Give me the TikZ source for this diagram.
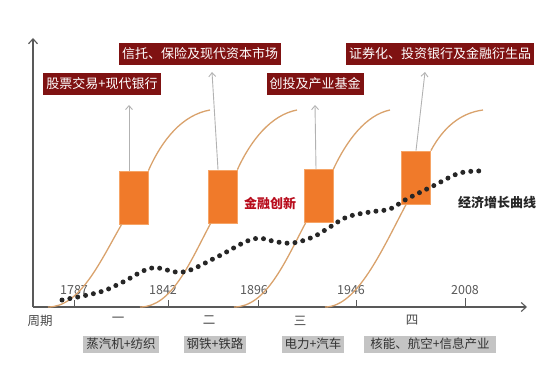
\documentclass[tikz,border=0pt]{standalone}
\usepackage{fontspec}
\setmainfont{Noto Sans CJK SC}
\usepackage{tikz}
\usetikzlibrary{arrows.meta}

\definecolor{axisgray}{HTML}{595959}
\definecolor{finred}{HTML}{7F1212}
\definecolor{boxorange}{HTML}{F07A2A}
\definecolor{boxedge}{HTML}{F6A466}
\definecolor{curvetan}{HTML}{D9A26C}
\definecolor{techgray}{HTML}{C4C4C4}
\definecolor{innored}{HTML}{B80C1C}

\begin{document}
\begin{tikzpicture}[x=1pt,y=-1pt,
  axis/.style={draw=axisgray, line width=1.1pt, -{Straight Barb[length=5pt,width=9pt]}},
  scurve/.style={draw=curvetan, line width=1.3pt},
  innobox/.style={draw=boxedge, line width=0.8pt, fill=boxorange, minimum width=29pt, minimum height=53pt, inner sep=0pt},
  finlabel/.style={fill=finred, text=white, font=\fontsize{13}{13}\selectfont, inner xsep=3pt, minimum height=22pt},
  uparrow/.style={draw=gray!60, line width=0.9pt, -{Straight Barb[length=4pt,width=7pt]}},
  year/.style={text=axisgray, font=\fontsize{12.5}{12.5}\selectfont, inner sep=0pt},
  period/.style={text=axisgray!80!black, font=\fontsize{12.5}{12.5}\selectfont, inner sep=0pt},
  tech/.style={fill=techgray, text=black!80, font=\fontsize{12.5}{12.5}\selectfont, inner xsep=3pt, inner ysep=1pt, minimum height=17pt},
  growth/.style={draw=black!85, line width=5pt, line cap=round, dash pattern=on 0pt off 8pt}]
\useasboundingbox (0,0) rectangle (554,374);

% axes
\coordinate (o) at (33,307);
\coordinate (xend) at (527,307);
\coordinate (yend) at (33,38);
\draw[axis] (o) -- (xend);
\draw[axis] (o) -- (yend);

% ticks and years
\draw[axisgray, line width=1pt] (74,307) -- (74,300);
\draw[axisgray, line width=1pt] (168,307) -- (168,300);
\draw[axisgray, line width=1pt] (258,307) -- (258,300);
\draw[axisgray, line width=1pt] (356,307) -- (356,300);
\draw[axisgray, line width=1pt] (465,307) -- (465,298);
\node[year] (y1787) at (74,290) {1787};
\node[year] (y1842) at (163,290) {1842};
\node[year] (y1896) at (254,290) {1896};
\node[year] (y1946) at (351,290) {1946};
\node[year] (y2008) at (465,290) {2008};

% periods
\node[period] (zq) at (40,321) {周期};
\node[period] (p1) at (118,320) {一};
\node[period] (p2) at (209,320) {二};
\node[period] (p3) at (300,321) {三};
\node[period] (p4) at (412,320) {四};

\node[tech] (t1) at (121,344) {蒸汽机+纺织};
\node[tech] (t2) at (215,344) {钢铁+铁路};
\node[tech] (t3) at (313,344) {电力+汽车};
\node[tech, minimum width=132pt] (t4) at (430,344) {核能、航空+信息产业};

% innovation boxes (placed first, curves hang on their corners)
\node[innobox] (b1) at (133.5,197.5) {};
\node[innobox] (b2) at (222.5,196.5) {};
\node[innobox] (b3) at (318.5,196) {};
\node[innobox] (b4) at (416,177.5) {};

% S curves
\draw[scurve] (48,307) .. controls (80,307) and (100,262) .. ([xshift=3pt]b1.south west);
\draw[scurve] (b1.north east) .. controls (162,140) and (182,115) .. (210,110);
\draw[scurve] (140,307) .. controls (172,307) and (190,262) .. ([xshift=3pt]b2.south west);
\draw[scurve] (b2.north east) .. controls (251,140) and (271,115) .. (297,110);
\draw[scurve] (234,307) .. controls (266,307) and (285,262) .. ([xshift=2pt]b3.south west);
\draw[scurve] (b3.north east) .. controls (347,140) and (366,115) .. (390,110);
\draw[scurve] (325,307) .. controls (357,307) and (382,250) .. ([xshift=5pt]b4.south west);
\draw[scurve] (b4.north east) .. controls (443,128) and (460,113) .. (483,110);

% financial labels
\node[finlabel] (f1) at (102,84) {股票交易+现代银行};
\node[finlabel] (f2) at (200,54) {信托、保险及现代资本市场};
\node[finlabel] (f3) at (315,84) {创投及产业基金};
\node[finlabel] (f4) at (440,54) {证券化、投资银行及金融衍生品};

\coordinate (a1) at (129,105);
\coordinate (a2) at (212,72);
\coordinate (a3) at (315,105);
\coordinate (a4) at (425,72);
\draw[uparrow] ([xshift=-4.5pt]b1.north) -- (a1);
\draw[uparrow] ([xshift=-4.5pt]b2.north) -- (a2);
\draw[uparrow] ([xshift=-2.5pt]b3.north) -- (a3);
\draw[uparrow] (b4.north) -- (a4);

\node[text=innored, font=\fontsize{13}{13}\selectfont\bfseries] (jr) at (270,203) {金融创新};
\node[text=black!85, font=\fontsize{13}{13}\selectfont\bfseries] (jj) at (497,203) {经济增长曲线};

% economic growth curve
\draw[growth] plot[smooth, tension=0.6] coordinates {(62,300) (100,292) (123,282) (152,268) (183,272) (217,257) (253,239) (277,242) (293,243) (313,237) (330,227) (347,217) (370,212) (390,209) (405,200) (433,186) (460,173) (485,171)};
\end{tikzpicture}
\end{document}
